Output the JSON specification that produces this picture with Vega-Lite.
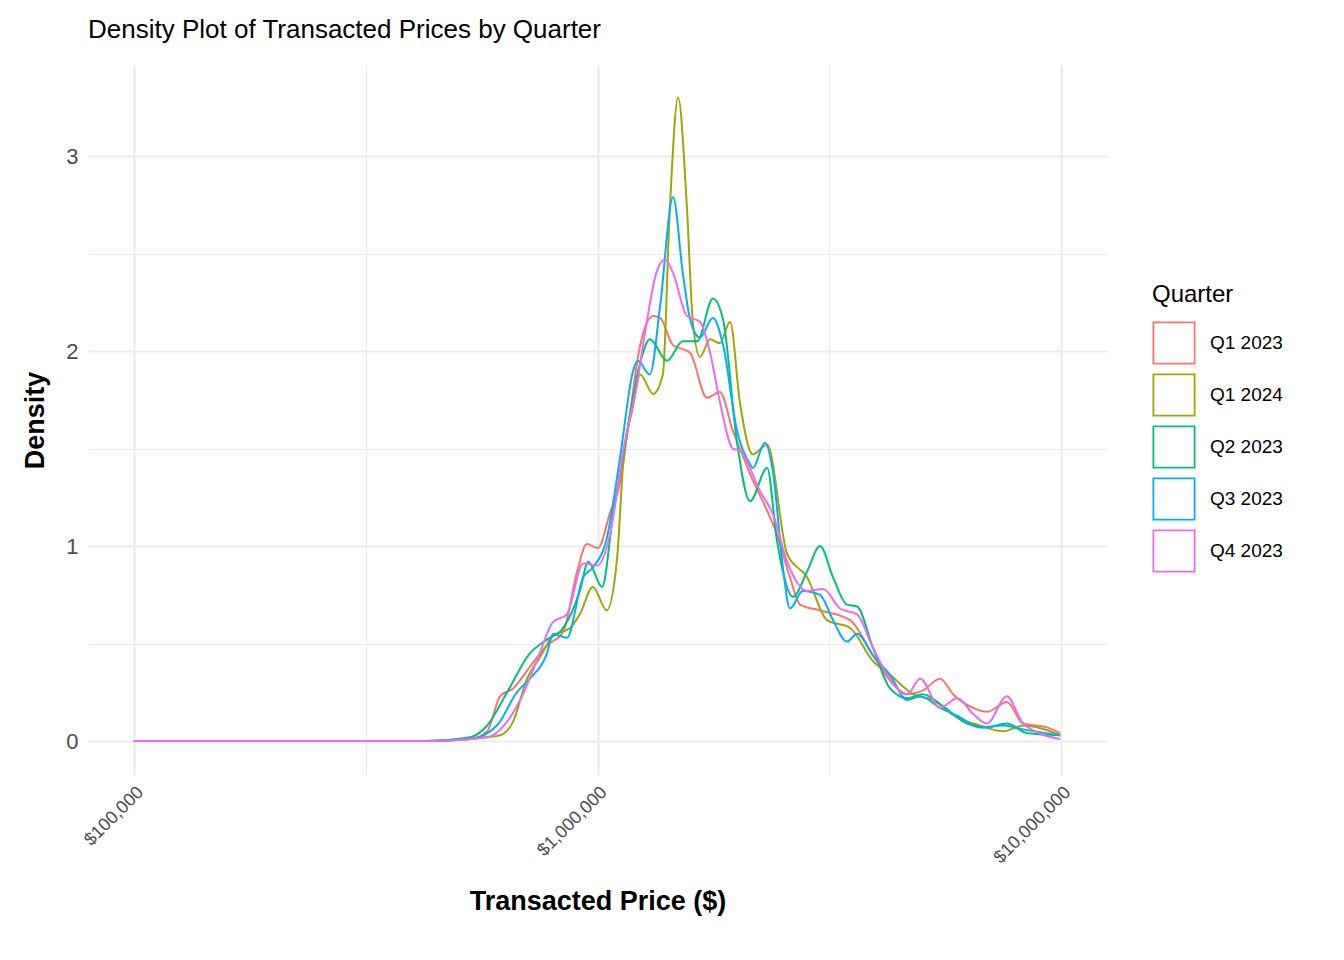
{
  "$schema": "https://vega.github.io/schema/vega-lite/v6.json",
  "autosize": "none",
  "width": 1019,
  "height": 710,
  "padding": {"left": 88, "top": 65, "right": 237, "bottom": 185},
  "background": "white",
  "title": {"text": "Density Plot of Transacted Prices by Quarter", "anchor": "start", "frame": "group", "font": "Liberation Sans", "fontSize": 26, "fontWeight": "normal", "color": "#000000", "offset": 22},
  "config": {"view": {"stroke": null}, "font": "Liberation Sans"},
  "data": {"values": [
    {"Quarter": "Q1 2023", "log_price": 5.0, "Density": 0},
    {"Quarter": "Q1 2023", "log_price": 5.617, "Density": 0},
    {"Quarter": "Q1 2023", "log_price": 5.725, "Density": 0.01},
    {"Quarter": "Q1 2023", "log_price": 5.762, "Density": 0.05},
    {"Quarter": "Q1 2023", "log_price": 5.790, "Density": 0.23},
    {"Quarter": "Q1 2023", "log_price": 5.818, "Density": 0.27},
    {"Quarter": "Q1 2023", "log_price": 5.854, "Density": 0.38},
    {"Quarter": "Q1 2023", "log_price": 5.891, "Density": 0.49},
    {"Quarter": "Q1 2023", "log_price": 5.926, "Density": 0.56},
    {"Quarter": "Q1 2023", "log_price": 5.956, "Density": 0.87},
    {"Quarter": "Q1 2023", "log_price": 5.977, "Density": 1.01},
    {"Quarter": "Q1 2023", "log_price": 6.001, "Density": 0.99},
    {"Quarter": "Q1 2023", "log_price": 6.027, "Density": 1.17},
    {"Quarter": "Q1 2023", "log_price": 6.049, "Density": 1.33},
    {"Quarter": "Q1 2023", "log_price": 6.070, "Density": 1.68},
    {"Quarter": "Q1 2023", "log_price": 6.092, "Density": 2.03},
    {"Quarter": "Q1 2023", "log_price": 6.120, "Density": 2.18},
    {"Quarter": "Q1 2023", "log_price": 6.135, "Density": 2.17},
    {"Quarter": "Q1 2023", "log_price": 6.163, "Density": 2.03},
    {"Quarter": "Q1 2023", "log_price": 6.184, "Density": 2.01},
    {"Quarter": "Q1 2023", "log_price": 6.200, "Density": 1.99},
    {"Quarter": "Q1 2023", "log_price": 6.236, "Density": 1.76},
    {"Quarter": "Q1 2023", "log_price": 6.264, "Density": 1.79},
    {"Quarter": "Q1 2023", "log_price": 6.292, "Density": 1.59},
    {"Quarter": "Q1 2023", "log_price": 6.314, "Density": 1.46},
    {"Quarter": "Q1 2023", "log_price": 6.329, "Density": 1.37},
    {"Quarter": "Q1 2023", "log_price": 6.366, "Density": 1.18},
    {"Quarter": "Q1 2023", "log_price": 6.387, "Density": 1.06},
    {"Quarter": "Q1 2023", "log_price": 6.415, "Density": 0.84},
    {"Quarter": "Q1 2023", "log_price": 6.437, "Density": 0.70},
    {"Quarter": "Q1 2023", "log_price": 6.480, "Density": 0.67},
    {"Quarter": "Q1 2023", "log_price": 6.545, "Density": 0.62},
    {"Quarter": "Q1 2023", "log_price": 6.594, "Density": 0.44},
    {"Quarter": "Q1 2023", "log_price": 6.631, "Density": 0.31},
    {"Quarter": "Q1 2023", "log_price": 6.668, "Density": 0.24},
    {"Quarter": "Q1 2023", "log_price": 6.702, "Density": 0.26},
    {"Quarter": "Q1 2023", "log_price": 6.739, "Density": 0.32},
    {"Quarter": "Q1 2023", "log_price": 6.767, "Density": 0.24},
    {"Quarter": "Q1 2023", "log_price": 6.810, "Density": 0.17},
    {"Quarter": "Q1 2023", "log_price": 6.840, "Density": 0.15},
    {"Quarter": "Q1 2023", "log_price": 6.883, "Density": 0.20},
    {"Quarter": "Q1 2023", "log_price": 6.918, "Density": 0.09},
    {"Quarter": "Q1 2023", "log_price": 6.970, "Density": 0.07},
    {"Quarter": "Q1 2023", "log_price": 6.998, "Density": 0.04},

    {"Quarter": "Q1 2024", "log_price": 5.0, "Density": 0},
    {"Quarter": "Q1 2024", "log_price": 5.617, "Density": 0},
    {"Quarter": "Q1 2024", "log_price": 5.762, "Density": 0.02},
    {"Quarter": "Q1 2024", "log_price": 5.790, "Density": 0.03},
    {"Quarter": "Q1 2024", "log_price": 5.818, "Density": 0.10},
    {"Quarter": "Q1 2024", "log_price": 5.848, "Density": 0.32},
    {"Quarter": "Q1 2024", "log_price": 5.876, "Density": 0.43},
    {"Quarter": "Q1 2024", "log_price": 5.904, "Density": 0.54},
    {"Quarter": "Q1 2024", "log_price": 5.941, "Density": 0.58},
    {"Quarter": "Q1 2024", "log_price": 5.962, "Density": 0.65},
    {"Quarter": "Q1 2024", "log_price": 5.990, "Density": 0.79},
    {"Quarter": "Q1 2024", "log_price": 6.020, "Density": 0.67},
    {"Quarter": "Q1 2024", "log_price": 6.042, "Density": 0.93},
    {"Quarter": "Q1 2024", "log_price": 6.055, "Density": 1.41},
    {"Quarter": "Q1 2024", "log_price": 6.077, "Density": 1.72},
    {"Quarter": "Q1 2024", "log_price": 6.092, "Density": 1.88},
    {"Quarter": "Q1 2024", "log_price": 6.120, "Density": 1.78},
    {"Quarter": "Q1 2024", "log_price": 6.141, "Density": 1.88},
    {"Quarter": "Q1 2024", "log_price": 6.156, "Density": 2.73},
    {"Quarter": "Q1 2024", "log_price": 6.174, "Density": 3.30},
    {"Quarter": "Q1 2024", "log_price": 6.193, "Density": 2.73},
    {"Quarter": "Q1 2024", "log_price": 6.206, "Density": 2.14},
    {"Quarter": "Q1 2024", "log_price": 6.221, "Density": 1.97},
    {"Quarter": "Q1 2024", "log_price": 6.243, "Density": 2.06},
    {"Quarter": "Q1 2024", "log_price": 6.264, "Density": 2.04},
    {"Quarter": "Q1 2024", "log_price": 6.286, "Density": 2.15},
    {"Quarter": "Q1 2024", "log_price": 6.307, "Density": 1.74},
    {"Quarter": "Q1 2024", "log_price": 6.335, "Density": 1.47},
    {"Quarter": "Q1 2024", "log_price": 6.366, "Density": 1.52},
    {"Quarter": "Q1 2024", "log_price": 6.409, "Density": 0.96},
    {"Quarter": "Q1 2024", "log_price": 6.452, "Density": 0.84},
    {"Quarter": "Q1 2024", "log_price": 6.495, "Density": 0.62},
    {"Quarter": "Q1 2024", "log_price": 6.545, "Density": 0.58},
    {"Quarter": "Q1 2024", "log_price": 6.594, "Density": 0.41},
    {"Quarter": "Q1 2024", "log_price": 6.631, "Density": 0.34},
    {"Quarter": "Q1 2024", "log_price": 6.681, "Density": 0.24},
    {"Quarter": "Q1 2024", "log_price": 6.724, "Density": 0.21},
    {"Quarter": "Q1 2024", "log_price": 6.776, "Density": 0.12},
    {"Quarter": "Q1 2024", "log_price": 6.825, "Density": 0.08},
    {"Quarter": "Q1 2024", "log_price": 6.875, "Density": 0.05},
    {"Quarter": "Q1 2024", "log_price": 6.918, "Density": 0.08},
    {"Quarter": "Q1 2024", "log_price": 6.998, "Density": 0.03},

    {"Quarter": "Q2 2023", "log_price": 5.0, "Density": 0},
    {"Quarter": "Q2 2023", "log_price": 5.617, "Density": 0},
    {"Quarter": "Q2 2023", "log_price": 5.725, "Density": 0.02},
    {"Quarter": "Q2 2023", "log_price": 5.762, "Density": 0.08},
    {"Quarter": "Q2 2023", "log_price": 5.805, "Density": 0.25},
    {"Quarter": "Q2 2023", "log_price": 5.854, "Density": 0.45},
    {"Quarter": "Q2 2023", "log_price": 5.891, "Density": 0.52},
    {"Quarter": "Q2 2023", "log_price": 5.926, "Density": 0.58},
    {"Quarter": "Q2 2023", "log_price": 5.962, "Density": 0.77},
    {"Quarter": "Q2 2023", "log_price": 5.980, "Density": 0.92},
    {"Quarter": "Q2 2023", "log_price": 6.010, "Density": 0.79},
    {"Quarter": "Q2 2023", "log_price": 6.033, "Density": 1.15},
    {"Quarter": "Q2 2023", "log_price": 6.064, "Density": 1.59},
    {"Quarter": "Q2 2023", "log_price": 6.092, "Density": 1.94},
    {"Quarter": "Q2 2023", "log_price": 6.113, "Density": 2.06},
    {"Quarter": "Q2 2023", "log_price": 6.150, "Density": 1.95},
    {"Quarter": "Q2 2023", "log_price": 6.184, "Density": 2.05},
    {"Quarter": "Q2 2023", "log_price": 6.215, "Density": 2.05},
    {"Quarter": "Q2 2023", "log_price": 6.249, "Density": 2.27},
    {"Quarter": "Q2 2023", "log_price": 6.271, "Density": 2.16},
    {"Quarter": "Q2 2023", "log_price": 6.301, "Density": 1.53},
    {"Quarter": "Q2 2023", "log_price": 6.329, "Density": 1.23},
    {"Quarter": "Q2 2023", "log_price": 6.366, "Density": 1.40},
    {"Quarter": "Q2 2023", "log_price": 6.387, "Density": 1.03},
    {"Quarter": "Q2 2023", "log_price": 6.422, "Density": 0.74},
    {"Quarter": "Q2 2023", "log_price": 6.452, "Density": 0.87},
    {"Quarter": "Q2 2023", "log_price": 6.480, "Density": 1.00},
    {"Quarter": "Q2 2023", "log_price": 6.508, "Density": 0.84},
    {"Quarter": "Q2 2023", "log_price": 6.538, "Density": 0.70},
    {"Quarter": "Q2 2023", "log_price": 6.560, "Density": 0.69},
    {"Quarter": "Q2 2023", "log_price": 6.594, "Density": 0.48},
    {"Quarter": "Q2 2023", "log_price": 6.631, "Density": 0.27},
    {"Quarter": "Q2 2023", "log_price": 6.668, "Density": 0.22},
    {"Quarter": "Q2 2023", "log_price": 6.702, "Density": 0.24},
    {"Quarter": "Q2 2023", "log_price": 6.739, "Density": 0.19},
    {"Quarter": "Q2 2023", "log_price": 6.797, "Density": 0.09},
    {"Quarter": "Q2 2023", "log_price": 6.840, "Density": 0.07},
    {"Quarter": "Q2 2023", "log_price": 6.883, "Density": 0.09},
    {"Quarter": "Q2 2023", "log_price": 6.927, "Density": 0.04},
    {"Quarter": "Q2 2023", "log_price": 6.998, "Density": 0.03},

    {"Quarter": "Q3 2023", "log_price": 5.0, "Density": 0},
    {"Quarter": "Q3 2023", "log_price": 5.617, "Density": 0},
    {"Quarter": "Q3 2023", "log_price": 5.725, "Density": 0.01},
    {"Quarter": "Q3 2023", "log_price": 5.783, "Density": 0.08},
    {"Quarter": "Q3 2023", "log_price": 5.826, "Density": 0.25},
    {"Quarter": "Q3 2023", "log_price": 5.854, "Density": 0.32},
    {"Quarter": "Q3 2023", "log_price": 5.891, "Density": 0.45},
    {"Quarter": "Q3 2023", "log_price": 5.904, "Density": 0.55},
    {"Quarter": "Q3 2023", "log_price": 5.934, "Density": 0.53},
    {"Quarter": "Q3 2023", "log_price": 5.969, "Density": 0.84},
    {"Quarter": "Q3 2023", "log_price": 5.990, "Density": 0.89},
    {"Quarter": "Q3 2023", "log_price": 6.020, "Density": 1.04},
    {"Quarter": "Q3 2023", "log_price": 6.049, "Density": 1.46},
    {"Quarter": "Q3 2023", "log_price": 6.077, "Density": 1.90},
    {"Quarter": "Q3 2023", "log_price": 6.087, "Density": 1.95},
    {"Quarter": "Q3 2023", "log_price": 6.113, "Density": 1.88},
    {"Quarter": "Q3 2023", "log_price": 6.135, "Density": 2.23},
    {"Quarter": "Q3 2023", "log_price": 6.163, "Density": 2.79},
    {"Quarter": "Q3 2023", "log_price": 6.184, "Density": 2.40},
    {"Quarter": "Q3 2023", "log_price": 6.200, "Density": 2.16},
    {"Quarter": "Q3 2023", "log_price": 6.221, "Density": 2.07},
    {"Quarter": "Q3 2023", "log_price": 6.249, "Density": 2.17},
    {"Quarter": "Q3 2023", "log_price": 6.271, "Density": 2.03},
    {"Quarter": "Q3 2023", "log_price": 6.301, "Density": 1.59},
    {"Quarter": "Q3 2023", "log_price": 6.329, "Density": 1.42},
    {"Quarter": "Q3 2023", "log_price": 6.335, "Density": 1.40},
    {"Quarter": "Q3 2023", "log_price": 6.361, "Density": 1.53},
    {"Quarter": "Q3 2023", "log_price": 6.379, "Density": 1.37},
    {"Quarter": "Q3 2023", "log_price": 6.400, "Density": 0.89},
    {"Quarter": "Q3 2023", "log_price": 6.415, "Density": 0.68},
    {"Quarter": "Q3 2023", "log_price": 6.443, "Density": 0.77},
    {"Quarter": "Q3 2023", "log_price": 6.480, "Density": 0.75},
    {"Quarter": "Q3 2023", "log_price": 6.508, "Density": 0.62},
    {"Quarter": "Q3 2023", "log_price": 6.538, "Density": 0.51},
    {"Quarter": "Q3 2023", "log_price": 6.560, "Density": 0.55},
    {"Quarter": "Q3 2023", "log_price": 6.594, "Density": 0.44},
    {"Quarter": "Q3 2023", "log_price": 6.631, "Density": 0.34},
    {"Quarter": "Q3 2023", "log_price": 6.668, "Density": 0.21},
    {"Quarter": "Q3 2023", "log_price": 6.696, "Density": 0.23},
    {"Quarter": "Q3 2023", "log_price": 6.739, "Density": 0.17},
    {"Quarter": "Q3 2023", "log_price": 6.776, "Density": 0.13},
    {"Quarter": "Q3 2023", "log_price": 6.825, "Density": 0.07},
    {"Quarter": "Q3 2023", "log_price": 6.875, "Density": 0.08},
    {"Quarter": "Q3 2023", "log_price": 6.918, "Density": 0.06},
    {"Quarter": "Q3 2023", "log_price": 6.998, "Density": 0.03},

    {"Quarter": "Q4 2023", "log_price": 5.0, "Density": 0},
    {"Quarter": "Q4 2023", "log_price": 5.617, "Density": 0},
    {"Quarter": "Q4 2023", "log_price": 5.762, "Density": 0.02},
    {"Quarter": "Q4 2023", "log_price": 5.805, "Density": 0.10},
    {"Quarter": "Q4 2023", "log_price": 5.833, "Density": 0.21},
    {"Quarter": "Q4 2023", "log_price": 5.869, "Density": 0.41},
    {"Quarter": "Q4 2023", "log_price": 5.904, "Density": 0.61},
    {"Quarter": "Q4 2023", "log_price": 5.934, "Density": 0.65},
    {"Quarter": "Q4 2023", "log_price": 5.969, "Density": 0.91},
    {"Quarter": "Q4 2023", "log_price": 5.999, "Density": 0.90},
    {"Quarter": "Q4 2023", "log_price": 6.027, "Density": 1.06},
    {"Quarter": "Q4 2023", "log_price": 6.055, "Density": 1.48},
    {"Quarter": "Q4 2023", "log_price": 6.085, "Density": 1.83},
    {"Quarter": "Q4 2023", "log_price": 6.107, "Density": 2.16},
    {"Quarter": "Q4 2023", "log_price": 6.128, "Density": 2.41},
    {"Quarter": "Q4 2023", "log_price": 6.146, "Density": 2.47},
    {"Quarter": "Q4 2023", "log_price": 6.163, "Density": 2.40},
    {"Quarter": "Q4 2023", "log_price": 6.193, "Density": 2.18},
    {"Quarter": "Q4 2023", "log_price": 6.221, "Density": 2.15},
    {"Quarter": "Q4 2023", "log_price": 6.243, "Density": 1.99},
    {"Quarter": "Q4 2023", "log_price": 6.264, "Density": 1.74},
    {"Quarter": "Q4 2023", "log_price": 6.292, "Density": 1.50},
    {"Quarter": "Q4 2023", "log_price": 6.307, "Density": 1.49},
    {"Quarter": "Q4 2023", "log_price": 6.351, "Density": 1.28},
    {"Quarter": "Q4 2023", "log_price": 6.379, "Density": 1.16},
    {"Quarter": "Q4 2023", "log_price": 6.409, "Density": 0.92},
    {"Quarter": "Q4 2023", "log_price": 6.452, "Density": 0.77},
    {"Quarter": "Q4 2023", "log_price": 6.487, "Density": 0.78},
    {"Quarter": "Q4 2023", "log_price": 6.523, "Density": 0.68},
    {"Quarter": "Q4 2023", "log_price": 6.560, "Density": 0.65},
    {"Quarter": "Q4 2023", "log_price": 6.594, "Density": 0.48},
    {"Quarter": "Q4 2023", "log_price": 6.625, "Density": 0.34},
    {"Quarter": "Q4 2023", "log_price": 6.668, "Density": 0.24},
    {"Quarter": "Q4 2023", "log_price": 6.696, "Density": 0.32},
    {"Quarter": "Q4 2023", "log_price": 6.739, "Density": 0.17},
    {"Quarter": "Q4 2023", "log_price": 6.776, "Density": 0.22},
    {"Quarter": "Q4 2023", "log_price": 6.810, "Density": 0.14},
    {"Quarter": "Q4 2023", "log_price": 6.840, "Density": 0.09},
    {"Quarter": "Q4 2023", "log_price": 6.883, "Density": 0.23},
    {"Quarter": "Q4 2023", "log_price": 6.918, "Density": 0.09},
    {"Quarter": "Q4 2023", "log_price": 6.998, "Density": 0.01}
  ]},
  "mark": {"type": "line", "interpolate": "monotone", "strokeWidth": 2},
  "encoding": {
    "x": {
      "field": "log_price", "type": "quantitative",
      "scale": {"domain": [4.901, 7.099], "nice": false, "zero": false},
      "axis": {
        "title": "Transacted Price ($)", "titleFontSize": 27, "titleFontWeight": "bold", "titleColor": "#000000", "titlePadding": 22,
        "values": [5, 5.5, 6, 6.5, 7],
        "labelExpr": "datum.value % 1 == 0 ? '$' + format(pow(10, datum.value), ',') : ''",
        "labelAngle": -45, "labelAlign": "right", "labelBaseline": "top", "labelFontSize": 18, "labelColor": "#4d4d4d", "labelPadding": 8,
        "ticks": false, "domain": false,
        "gridColor": "#ebebeb",
        "gridWidth": {"condition": {"test": "datum.value % 1 != 0", "value": 1}, "value": 2}
      }
    },
    "y": {
      "field": "Density", "type": "quantitative",
      "scale": {"domain": [-0.174, 3.467], "nice": false, "zero": false},
      "axis": {
        "title": "Density", "titleFontSize": 27, "titleFontWeight": "bold", "titleColor": "#000000", "titlePadding": 16,
        "values": [0, 0.5, 1, 1.5, 2, 2.5, 3],
        "labelExpr": "datum.value % 1 == 0 ? format(datum.value, 'd') : ''",
        "labelFontSize": 22, "labelColor": "#4d4d4d", "labelPadding": 10,
        "ticks": false, "domain": false,
        "gridColor": "#ebebeb",
        "gridWidth": {"condition": {"test": "datum.value % 1 != 0", "value": 1}, "value": 2}
      }
    },
    "color": {
      "field": "Quarter", "type": "nominal",
      "scale": {"domain": ["Q1 2023", "Q1 2024", "Q2 2023", "Q3 2023", "Q4 2023"], "range": ["#F8766D", "#A3A500", "#00BF7D", "#00B0F6", "#E76BF3"]},
      "legend": {
        "orient": "none", "legendX": 1064, "legendY": 218,
        "titleFontSize": 24, "titleFontWeight": "normal", "titleColor": "#000000", "titlePadding": 14,
        "labelFontSize": 19, "labelColor": "#000000", "labelOffset": 14,
        "symbolType": "square", "symbolSize": 1700, "symbolStrokeWidth": 1.8, "rowPadding": 2
      }
    }
  }
}
